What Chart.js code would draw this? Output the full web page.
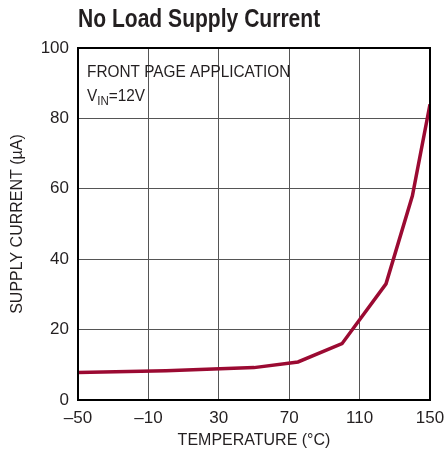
<!DOCTYPE html>
<html>
<head>
<meta charset="utf-8">
<script src="https://cdn.jsdelivr.net/npm/chart.js@4"></script>
<style>
  body { margin: 0; background: #fff; }
</style>
</head>
<body>
<canvas id="myChart" width="445" height="460"></canvas>
<script>
// data
var temps = [-50, 0, 50, 75, 100, 125, 140, 150];
var current = [7.8, 8.3, 9.2, 10.8, 16.0, 33.0, 58.0, 84.0];
var xTicks = [-50, -10, 30, 70, 110, 150];
var yTicks = [0, 20, 40, 60, 80, 100];

var FONT = "'Liberation Sans', Arial, sans-serif";

// title, notes and the frame round the plot
var extras = {
  id: "extras",
  afterDraw: function (chart) {
    var c = chart.ctx, a = chart.chartArea;
    c.save();
    c.strokeStyle = "#000";
    c.lineWidth = 2;
    c.strokeRect(a.left, a.top, a.right - a.left, a.bottom - a.top);

    c.fillStyle = "#231f20";
    c.textBaseline = "alphabetic";
    // condensed bold title
    c.save();
    c.translate(a.left, 27);
    c.scale(0.81, 1);
    c.font = "bold 26px " + FONT;
    c.fillText("No Load Supply Current", 0, 0);
    c.restore();

    c.save();
    c.translate(a.left + 9, 0);
    c.scale(0.96, 1);
    c.font = "16px " + FONT;
    c.fillText("FRONT PAGE APPLICATION", 0, a.top + 29);
    c.fillText("V", 0, a.top + 53);
    var w = c.measureText("V").width;
    c.font = "12px " + FONT;
    c.fillText("IN", w, a.top + 57);
    var w2 = c.measureText("IN").width;
    c.font = "16px " + FONT;
    c.fillText("=12V", w + w2, a.top + 53);
    c.restore();
    c.restore();
  }
};

var ctx = document.getElementById("myChart").getContext("2d");

var myChart = new Chart(ctx, {
  type: "line",
  data: {
    datasets: [
      {
        data: temps.map(function (t, i) { return { x: t, y: current[i] }; }),
        borderColor: "#9b0a32",
        borderWidth: 3.5,
        pointRadius: 0,
        tension: 0,
        fill: false,
      },
    ],
  },
  options: {
    responsive: false,
    animation: false,
    layout: { padding: { top: 48, right: 15, left: 0, bottom: 10 } },
    plugins: { legend: { display: false }, tooltip: { enabled: false } },
    scales: {
      x: {
        type: "linear",
        min: -50,
        max: 150,
        afterBuildTicks: function (s) { s.ticks = xTicks.map(function (v) { return { value: v }; }); },
        afterFit: function (s) { s.height = 50; s.paddingRight = 0; s.paddingLeft = 0; },
        grid: { color: "#555", lineWidth: 1, drawTicks: false },
        border: { display: false },
        ticks: {
          padding: 8,
          color: "#231f20",
          font: { family: FONT, size: 17 },
          callback: function (v) { return String(v).replace("-", "\u2013"); },
        },
        title: {
          display: true,
          text: "TEMPERATURE (\u00b0C)",
          color: "#231f20",
          font: { family: FONT, size: 16 },
          padding: { top: 4, bottom: 0 },
        },
      },
      y: {
        min: 0,
        max: 100,
        afterBuildTicks: function (s) { s.ticks = yTicks.map(function (v) { return { value: v }; }); },
        afterFit: function (s) { s.width = 78; },
        grid: { color: "#555", lineWidth: 1, drawTicks: false },
        border: { display: false },
        ticks: {
          padding: 9,
          color: "#231f20",
          font: { family: FONT, size: 17 },
        },
        title: {
          display: true,
          text: "SUPPLY CURRENT (\u00b5A)",
          color: "#231f20",
          font: { family: FONT, size: 16 },
          padding: { top: 8, bottom: 0 },
        },
      },
    },
  },
  plugins: [extras],
});
</script>
</body>
</html>
